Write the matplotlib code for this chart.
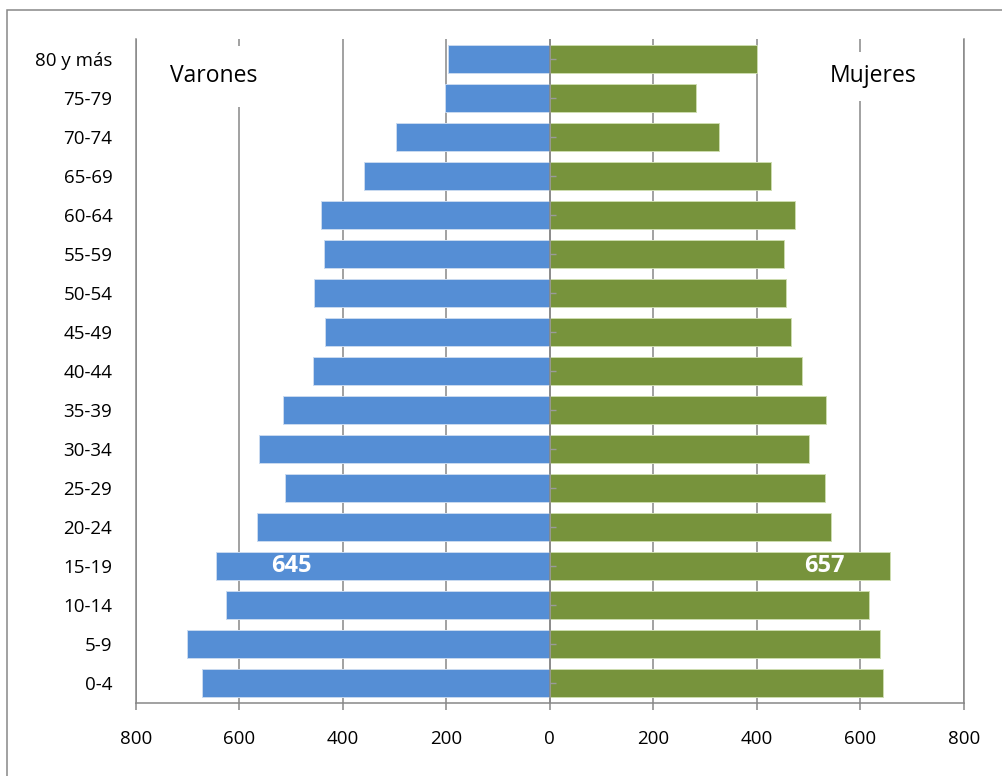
import matplotlib
matplotlib.use("Agg")
import matplotlib.pyplot as plt
from matplotlib.patches import Rectangle
from matplotlib.lines import TICKRIGHT
import numpy as np

# Age groups, youngest first (bottom of the pyramid)
age_groups = ["0-4", "5-9", "10-14", "15-19", "20-24", "25-29", "30-34",
              "35-39", "40-44", "45-49", "50-54", "55-59", "60-64",
              "65-69", "70-74", "75-79", "80 y más"]
varones = [672, 702, 626, 645, 567, 511, 562, 515, 457, 435, 456, 436,
           442, 360, 298, 203, 197]
mujeres = [643, 638, 617, 657, 543, 531, 500, 533, 487, 466, 457, 452,
           474, 427, 327, 282, 400]
x_ticks = [-800, -600, -400, -200, 0, 200, 400, 600, 800]
x_tick_labels = ["800", "600", "400", "200", "0", "200", "400", "600", "800"]
highlight_group = "15-19"

BLUE = "#558ED5"
GREEN = "#77933C"
GRID = "#878787"

plt.rcParams["font.family"] = ["Open Sans", "DejaVu Sans"]

fig = plt.figure(figsize=(10.02, 7.76), dpi=100)
ax = fig.add_axes([0.1357, 0.0945, 0.8261, 0.8549])

y = np.arange(len(age_groups))
male = -np.array(varones)
female = np.array(mujeres)

ax.barh(y, male, height=0.72, color=BLUE, edgecolor="#c9daf0",
        linewidth=0.7, zorder=2)
ax.barh(y, female, height=0.72, color=GREEN, edgecolor="#cddcaf",
        linewidth=0.7, zorder=2)

ax.set_xlim(-800, 800)
ax.set_ylim(-0.5, len(age_groups) - 0.5)

# vertical gridlines and the central category axis
ax.set_xticks(x_ticks)
ax.set_xticklabels(x_tick_labels, fontsize=13.5)
ax.grid(axis="x", color=GRID, linewidth=1.1, zorder=1)
ax.grid(axis="y", visible=False)
ax.axvline(0, color=GRID, linewidth=1.1, zorder=3)
ax.plot(np.zeros(len(y)), y, ls="none", marker=TICKRIGHT, ms=4,
        mew=1.0, color="#9a9a9a", zorder=3)

ax.set_yticks(y)
ax.set_yticklabels(age_groups, fontsize=13.5)
ax.tick_params(axis="y", length=0, pad=17)
ax.tick_params(axis="x", direction="out", length=5, width=1.1,
               color=GRID, pad=15)

for side in ("left", "right", "bottom"):
    ax.spines[side].set_color(GRID)
    ax.spines[side].set_linewidth(1.1)
ax.spines["top"].set_visible(False)

# section titles with white boxes that interrupt the gridlines
ax.text(-734, 15.55, "Varones", fontsize=16.5, ha="left", va="center",
        zorder=4, bbox=dict(boxstyle="square,pad=0.8", fc="white",
                            ec="none"))
ax.text(542, 15.55, "Mujeres", fontsize=16.5, ha="left", va="center",
        zorder=4, bbox=dict(boxstyle="square,pad=0.55", fc="white",
                            ec="none"))

# value labels on the highlighted age group
hi = age_groups.index(highlight_group)
ax.annotate(str(varones[hi]), xy=(male[hi], hi), xytext=(54, 0),
            textcoords="offset points", ha="center", va="center",
            fontsize=17, fontweight="bold", color="white", zorder=5)
ax.annotate(str(mujeres[hi]), xy=(female[hi], hi), xytext=(-47, 0),
            textcoords="offset points", ha="center", va="center",
            fontsize=17, fontweight="bold", color="white", zorder=5)

# outer chart frame
fig.add_artist(Rectangle((7 / 1002, -0.05), 1.1, 1.05 - 10 / 776,
                         transform=fig.transFigure, fill=False,
                         edgecolor=GRID, linewidth=1.1))

fig.savefig("out.png", dpi=100, facecolor="white")
